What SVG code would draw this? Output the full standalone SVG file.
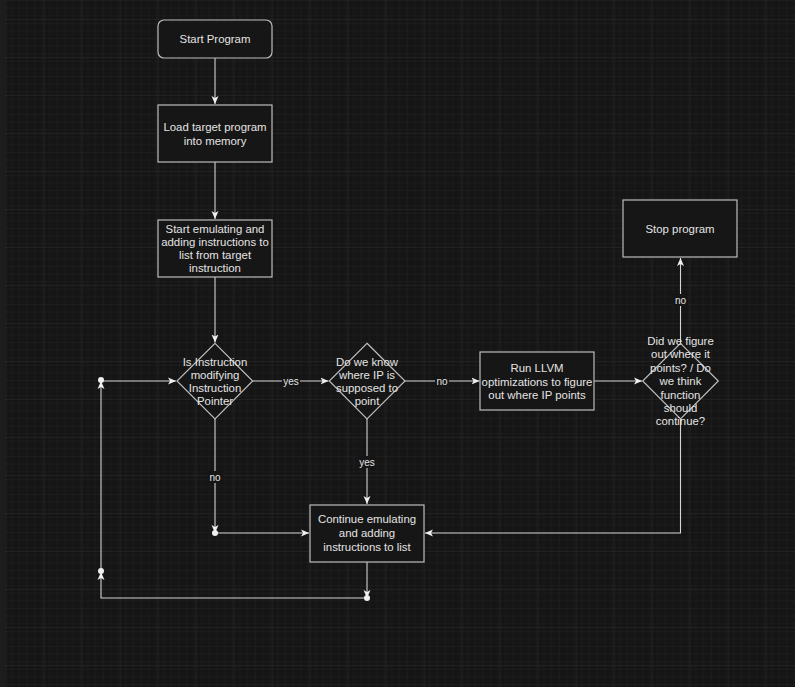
<svg xmlns="http://www.w3.org/2000/svg" width="795" height="687" viewBox="0 0 795 687">
<style>
.node{fill:#161616;stroke:#bdbdbd;stroke-width:1.2}
.t{font-family:"Liberation Sans",Arial,sans-serif;font-size:11.4px;fill:#e4e4e4;text-anchor:middle}
.lbl{font-family:"Liberation Sans",Arial,sans-serif;font-size:10px;fill:#e4e4e4;text-anchor:middle}
.e{fill:none;stroke:#d4d4d4;stroke-width:1.1}
.dot{fill:#f0f0f0}
.lb{fill:#151515}
</style>
<defs>
<pattern id="minor" width="7.6" height="7.6" patternUnits="userSpaceOnUse" x="5.7" y="19">
<path d="M0,0H7.6M0,0V7.6" fill="none" stroke="#222222" stroke-width="1"/>
</pattern>
<pattern id="major" width="38" height="38" patternUnits="userSpaceOnUse" x="5.7" y="19">
<rect width="38" height="38" fill="url(#minor)"/>
<path d="M0,0H38M0,0V38" fill="none" stroke="#2e2e2e" stroke-width="1"/>
</pattern>
<marker id="arr" markerUnits="userSpaceOnUse" markerWidth="10" markerHeight="10" refX="8" refY="4" orient="auto" viewBox="0 0 10 8">
<path d="M0,0.5 L8,4 L0,7.5 L2,4 z" fill="#f0f0f0"/>
</marker>
</defs>
<rect width="795" height="687" fill="#151515"/>
<rect width="795" height="687" fill="url(#major)"/>
<rect x="0" y="0" width="5" height="687" fill="#1d1d1d"/>

<g id="connectors">
<path class="e" d="M215,58V104" marker-end="url(#arr)"/>
<path class="e" d="M215,162V219" marker-end="url(#arr)"/>
<path class="e" d="M215,277V342.5" marker-end="url(#arr)"/>
<path class="e" d="M253,381H328.5" marker-end="url(#arr)"/>
<rect class="lb" x="282" y="375" width="18" height="12"/>
<text class="lbl" x="291" y="384.5">yes</text>
<path class="e" d="M405,381H479.5" marker-end="url(#arr)"/>
<rect class="lb" x="435" y="375" width="14" height="12"/>
<text class="lbl" x="442" y="384.5">no</text>
<path class="e" d="M594,381H642" marker-end="url(#arr)"/>
<path class="e" d="M680.5,343V258" marker-end="url(#arr)"/>
<rect class="lb" x="673" y="294" width="15" height="12"/>
<text class="lbl" x="680.5" y="303.5">no</text>
<path class="e" d="M680.5,419V533H425" marker-end="url(#arr)"/>
<path class="e" d="M367,419V504" marker-end="url(#arr)"/>
<rect class="lb" x="358" y="456" width="18" height="12"/>
<text class="lbl" x="367" y="465.5">yes</text>
<path class="e" d="M215,419V533" marker-end="url(#arr)"/>
<rect class="lb" x="208" y="471" width="15" height="12"/>
<text class="lbl" x="215" y="480.5">no</text>
<path class="e" d="M215,533H309" marker-end="url(#arr)"/>
<path class="e" d="M367,562V598" marker-end="url(#arr)"/>
<path class="e" d="M367,598H101V572" marker-end="url(#arr)"/>
<path class="e" d="M101,572V381" marker-end="url(#arr)"/>
<path class="e" d="M101,381H176" marker-end="url(#arr)"/>
<circle class="dot" cx="215" cy="533" r="3"/>
<circle class="dot" cx="367" cy="598" r="3"/>
<circle class="dot" cx="101" cy="571" r="3"/>
<circle class="dot" cx="101" cy="380" r="3"/>
</g>

<g id="start">
<rect class="node" x="158" y="20" width="114" height="38" rx="6"/>
<text class="t" x="215" y="43">Start Program</text>
</g>
<g id="load">
<rect class="node" x="158" y="105" width="114" height="57"/>
<text class="t" x="215" y="131">Load target program</text>
<text class="t" x="215" y="145">into memory</text>
</g>
<g id="emulate">
<rect class="node" x="158" y="220" width="114" height="57"/>
<text class="t" x="215" y="232.5">Start emulating and</text>
<text class="t" x="215" y="245.8">adding instructions to</text>
<text class="t" x="215" y="259.1">list from target</text>
<text class="t" x="215" y="272.4">instruction</text>
</g>
<g id="decision1">
<path class="node" d="M215,343.3L252.7,381L215,419L177,381Z"/>
<text class="t" x="215" y="365.7">Is Instruction</text>
<text class="t" x="215" y="378.7">modifying</text>
<text class="t" x="215" y="392">Instruction</text>
<text class="t" x="215" y="405">Pointer</text>
</g>
<g id="decision2">
<path class="node" d="M367,343.3L405,381L367,419L329.3,381Z"/>
<text class="t" x="367" y="365.7">Do we know</text>
<text class="t" x="367" y="378.7">where IP is</text>
<text class="t" x="367" y="392">supposed to</text>
<text class="t" x="367" y="405">point</text>
</g>
<g id="llvm">
<rect class="node" x="480" y="352" width="114" height="58"/>
<text class="t" x="537" y="371.5">Run LLVM</text>
<text class="t" x="537" y="385.5">optimizations to figure</text>
<text class="t" x="537" y="399">out where IP points</text>
</g>
<g id="decision3">
<path class="node" d="M680.5,343.3L718.3,381L680.5,419L642.7,381Z"/>
<text class="t" x="680.5" y="344.7">Did we figure</text>
<text class="t" x="680.5" y="358.3">out where it</text>
<text class="t" x="680.5" y="371.7">points? / Do</text>
<text class="t" x="680.5" y="385.3">we think</text>
<text class="t" x="680.5" y="399">function</text>
<text class="t" x="680.5" y="412.3">should</text>
<text class="t" x="680.5" y="425.3">continue?</text>
</g>
<g id="stop">
<rect class="node" x="623" y="200" width="114" height="57"/>
<text class="t" x="680" y="233">Stop program</text>
</g>
<g id="continue">
<rect class="node" x="310" y="505" width="114" height="57"/>
<text class="t" x="367" y="523.3">Continue emulating</text>
<text class="t" x="367" y="537.3">and adding</text>
<text class="t" x="367" y="551">instructions to list</text>
</g>
</svg>
